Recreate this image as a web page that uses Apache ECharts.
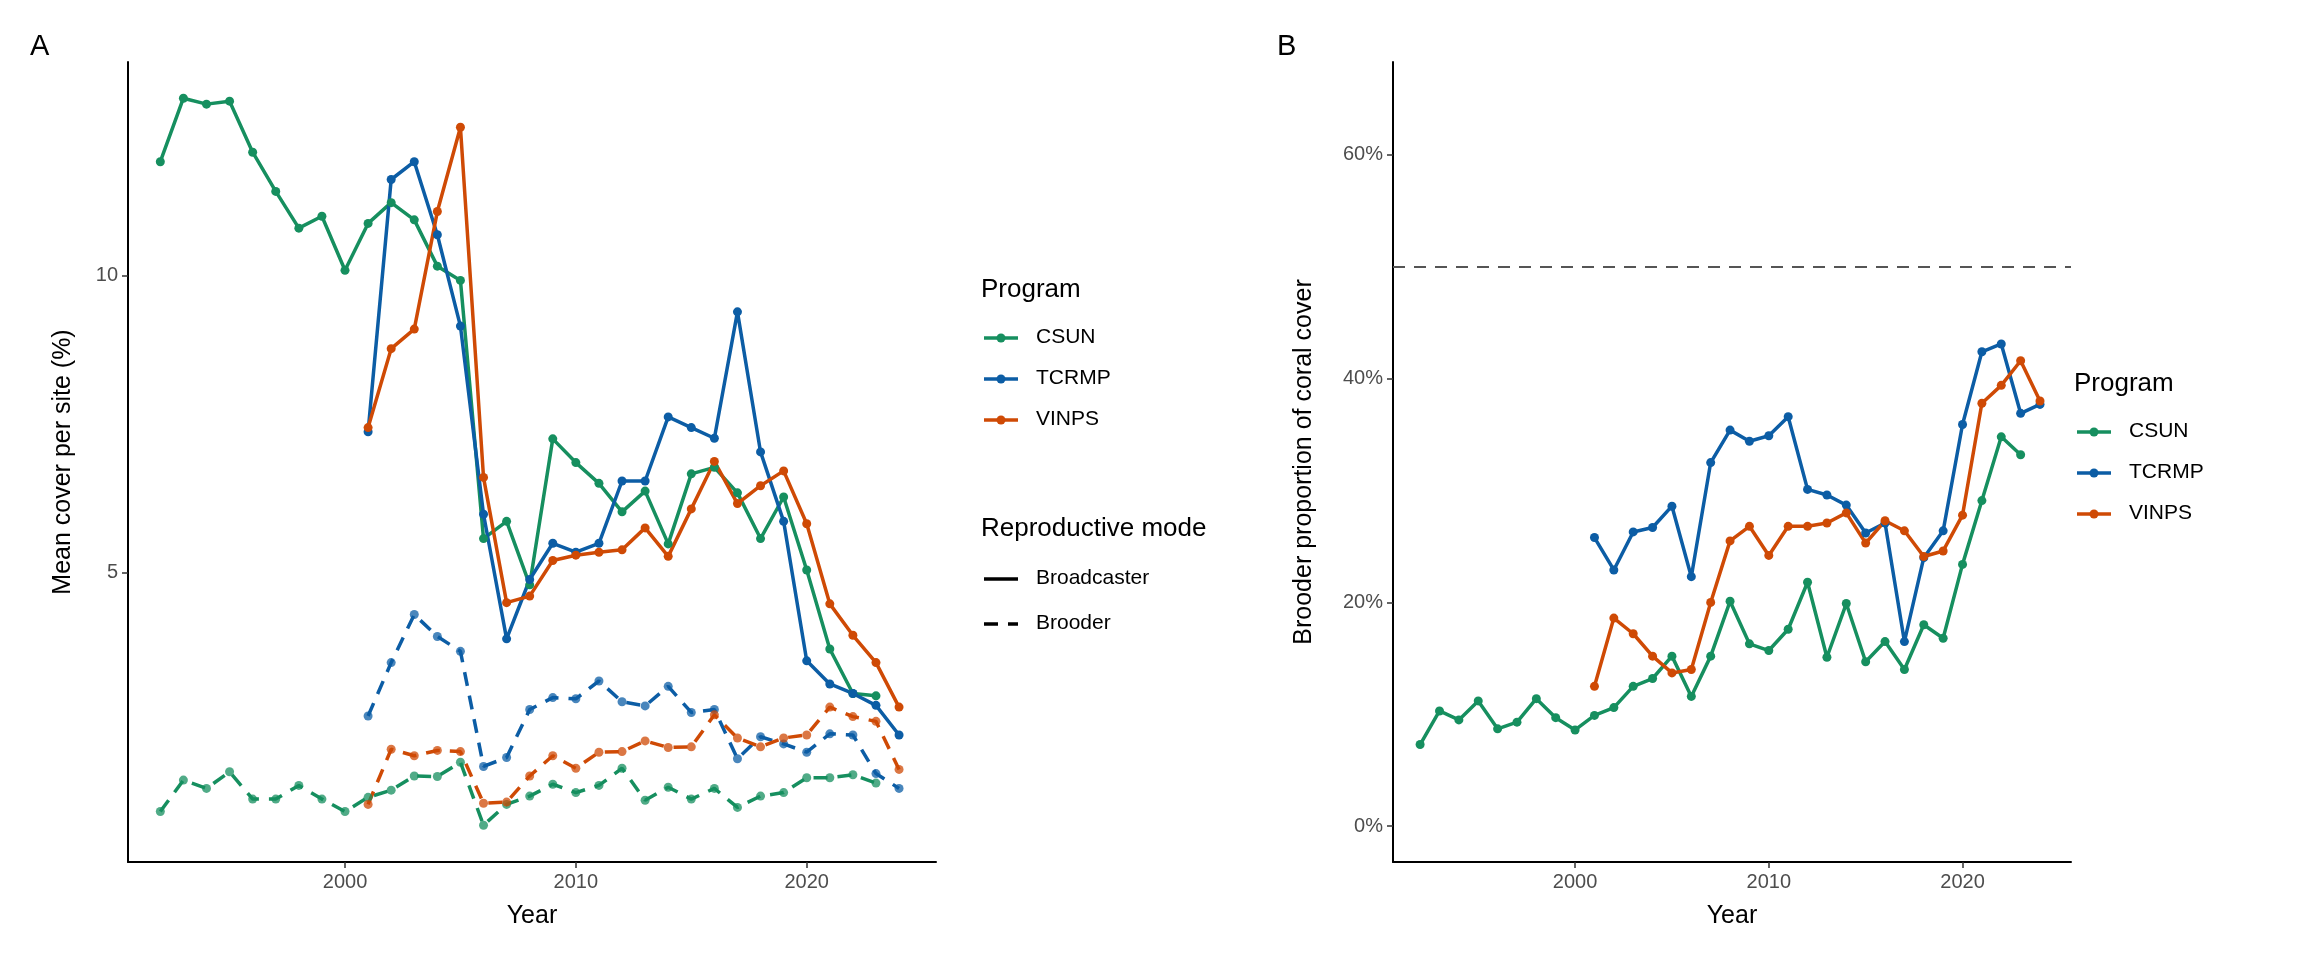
<!DOCTYPE html>
<html><head><meta charset="utf-8">
<script src="https://cdn.jsdelivr.net/npm/echarts@6/dist/echarts.min.js"></script>
<style>html,body{margin:0;background:#fff}#main{width:2304px;height:960px}</style>
</head><body><div id="main"></div>
<script>
const yrsCSUN = [];
for (let y = 1992; y <= 2023; y++) yrsCSUN.push(y);
const yrsOther = [];
for (let y = 2001; y <= 2024; y++) yrsOther.push(y);

// Panel A: mean cover per site (%)
const csunBroad = [11.92,12.99,12.89,12.94,12.08,11.42,10.8,11.0,10.09,10.88,11.23,10.94,10.16,9.92,5.57,5.86,4.79,7.25,6.85,6.5,6.02,6.37,5.48,6.66,6.77,6.34,5.57,6.27,5.04,3.71,2.96,2.92];
const tcrmpBroad = [7.37,11.62,11.92,10.69,9.15,5.98,3.88,4.88,5.49,5.34,5.49,6.54,6.54,7.62,7.44,7.26,9.39,7.03,5.86,3.51,3.12,2.96,2.76,2.26];
const vinpsBroad = [7.44,8.77,9.1,11.08,12.5,6.6,4.49,4.6,5.2,5.29,5.34,5.38,5.75,5.27,6.07,6.87,6.16,6.46,6.71,5.82,4.47,3.94,3.48,2.73];
const csunBrood = [0.97,1.5,1.36,1.64,1.18,1.18,1.41,1.18,0.97,1.21,1.33,1.57,1.56,1.8,0.74,1.09,1.23,1.43,1.29,1.41,1.7,1.16,1.38,1.18,1.36,1.04,1.23,1.29,1.54,1.54,1.59,1.45];
const tcrmpBrood = [2.58,3.48,4.29,3.92,3.67,1.73,1.88,2.69,2.89,2.87,3.17,2.82,2.75,3.08,2.64,2.69,1.86,2.23,2.11,1.97,2.28,2.26,1.61,1.36];
const vinpsBrood = [1.09,2.02,1.91,2.0,1.98,1.11,1.13,1.57,1.91,1.7,1.97,1.98,2.16,2.05,2.06,2.6,2.21,2.06,2.21,2.26,2.73,2.57,2.49,1.68];

// Panel B: brooder proportion of coral cover (%)
const csunProp = [7.3,10.3,9.5,11.2,8.7,9.3,11.4,9.7,8.6,9.9,10.6,12.5,13.2,15.2,11.6,15.2,20.1,16.3,15.7,17.6,21.8,15.1,19.9,14.7,16.5,14.0,18.0,16.8,23.4,29.1,34.8,33.2];
const tcrmpProp = [25.8,22.9,26.3,26.7,28.6,22.3,32.5,35.4,34.4,34.9,36.6,30.1,29.6,28.7,26.2,27.1,16.5,24.0,26.4,35.9,42.4,43.1,36.9,37.7];
const vinpsProp = [12.5,18.6,17.2,15.2,13.7,14.0,20.0,25.5,26.8,24.2,26.8,26.8,27.1,28.0,25.3,27.3,26.4,24.1,24.6,27.8,37.8,39.4,41.6,38.0];

const xTicks = [2000, 2010, 2020];
const yTicksA = [5, 10];
const yTicksB = [0, 20, 40, 60];

const programs = ['CSUN', 'TCRMP', 'VINPS'];
const colors = { CSUN: '#168f5f', TCRMP: '#0c5da5', VINPS: '#cf4a05' };
const FONT = 'Arial, "Liberation Sans", sans-serif';

const pairs = (xs, vs) => xs.map((x, i) => [x, vs[i]]);

function line(name, xs, vs, xi, dashed) {
  return {
    type: 'line', name, xAxisIndex: xi, yAxisIndex: xi,
    data: pairs(xs, vs), symbol: 'circle', symbolSize: 9,
    itemStyle: { color: colors[name], opacity: dashed ? 0.75 : 1 },
    lineStyle: { color: colors[name], width: 3.5, type: dashed ? [14, 10] : 'solid' },
    silent: true, animation: false
  };
}

function xAxis(gi) {
  return {
    type: 'value', gridIndex: gi, min: 1990.6, max: 2025.6,
    name: 'Year', nameLocation: 'middle', nameGap: 42,
    nameTextStyle: { fontSize: 25, color: '#000', fontFamily: FONT },
    axisLine: { show: true, onZero: false, lineStyle: { color: '#000', width: 2 } },
    axisTick: { show: true, length: 6, lineStyle: { color: '#333', width: 1.5 }, customValues: xTicks },
    axisLabel: { fontSize: 20, color: '#4d4d4d', fontFamily: FONT, customValues: xTicks, formatter: v => String(v), margin: 10 },
    splitLine: { show: false }
  };
}

function yAxis(gi, min, max, ticks, fmt, title) {
  return {
    type: 'value', gridIndex: gi, min, max,
    name: title, nameLocation: 'middle', nameGap: gi === 0 ? 52 : 76,
    nameTextStyle: { fontSize: 25, color: '#000', fontFamily: FONT },
    axisLine: { show: true, onZero: false, lineStyle: { color: '#000', width: 2 } },
    axisTick: { show: true, length: 6, lineStyle: { color: '#333', width: 1.5 }, customValues: ticks },
    axisLabel: { fontSize: 20, color: '#4d4d4d', fontFamily: FONT, customValues: ticks, formatter: fmt, margin: 10 },
    splitLine: { show: false }
  };
}

const series = [
  line('CSUN', yrsCSUN, csunBroad, 0, false),
  line('TCRMP', yrsOther, tcrmpBroad, 0, false),
  line('VINPS', yrsOther, vinpsBroad, 0, false),
  line('CSUN', yrsCSUN, csunBrood, 0, true),
  line('TCRMP', yrsOther, tcrmpBrood, 0, true),
  line('VINPS', yrsOther, vinpsBrood, 0, true),
  line('CSUN', yrsCSUN, csunProp, 1, false),
  line('TCRMP', yrsOther, tcrmpProp, 1, false),
  line('VINPS', yrsOther, vinpsProp, 1, false)
];
series[6].markLine = {
  silent: true, symbol: 'none', label: { show: false },
  lineStyle: { color: '#555', width: 2, type: [12, 9] },
  data: [{ yAxis: 50 }]
};

// legends drawn as graphics
const g = [];
const txt = (x, y, s, size) => ({ type: 'text', left: x, top: y, style: { text: s, fontSize: size, fontFamily: FONT, fill: '#000' } });
function progLegend(x, y) {
  g.push(txt(x, y - 14, 'Program', 26));
  programs.forEach((p, i) => {
    const cy = y + 47 + i * 41;
    g.push({ type: 'line', shape: { x1: x + 3, y1: cy, x2: x + 37, y2: cy }, style: { stroke: colors[p], lineWidth: 3.5 } });
    g.push({ type: 'circle', shape: { cx: x + 20, cy, r: 4.5 }, style: { fill: colors[p] } });
    g.push(txt(x + 55, cy - 11, p, 21));
  });
}
progLegend(981, 291);
progLegend(2074, 385);
g.push(txt(981, 516, 'Reproductive mode', 26));
g.push({ type: 'line', shape: { x1: 984, y1: 579, x2: 1018, y2: 579 }, style: { stroke: '#000', lineWidth: 3.5 } });
g.push(txt(1036, 568, 'Broadcaster', 21));
g.push({ type: 'line', shape: { x1: 984, y1: 624, x2: 1018, y2: 624 }, style: { stroke: '#000', lineWidth: 3.5, lineDash: [14, 10] } });
g.push(txt(1036, 613, 'Brooder', 21));
g.push(txt(30, 32, 'A', 29));
g.push(txt(1277, 32, 'B', 29));

const chart = echarts.init(document.getElementById('main'));
chart.setOption({
  backgroundColor: '#fff',
  animation: false,
  grid: [
    { left: 128, top: 62, width: 808, height: 800 },
    { left: 1393, top: 62, width: 678, height: 800 }
  ],
  xAxis: [xAxis(0), xAxis(1)],
  yAxis: [
    yAxis(0, 0.12, 13.6, yTicksA, v => String(v), 'Mean cover per site (%)'),
    yAxis(1, -3.2, 68.3, yTicksB, v => v + '%', 'Brooder proportion of coral cover')
  ],
  series,
  graphic: g
});
</script></body></html>
